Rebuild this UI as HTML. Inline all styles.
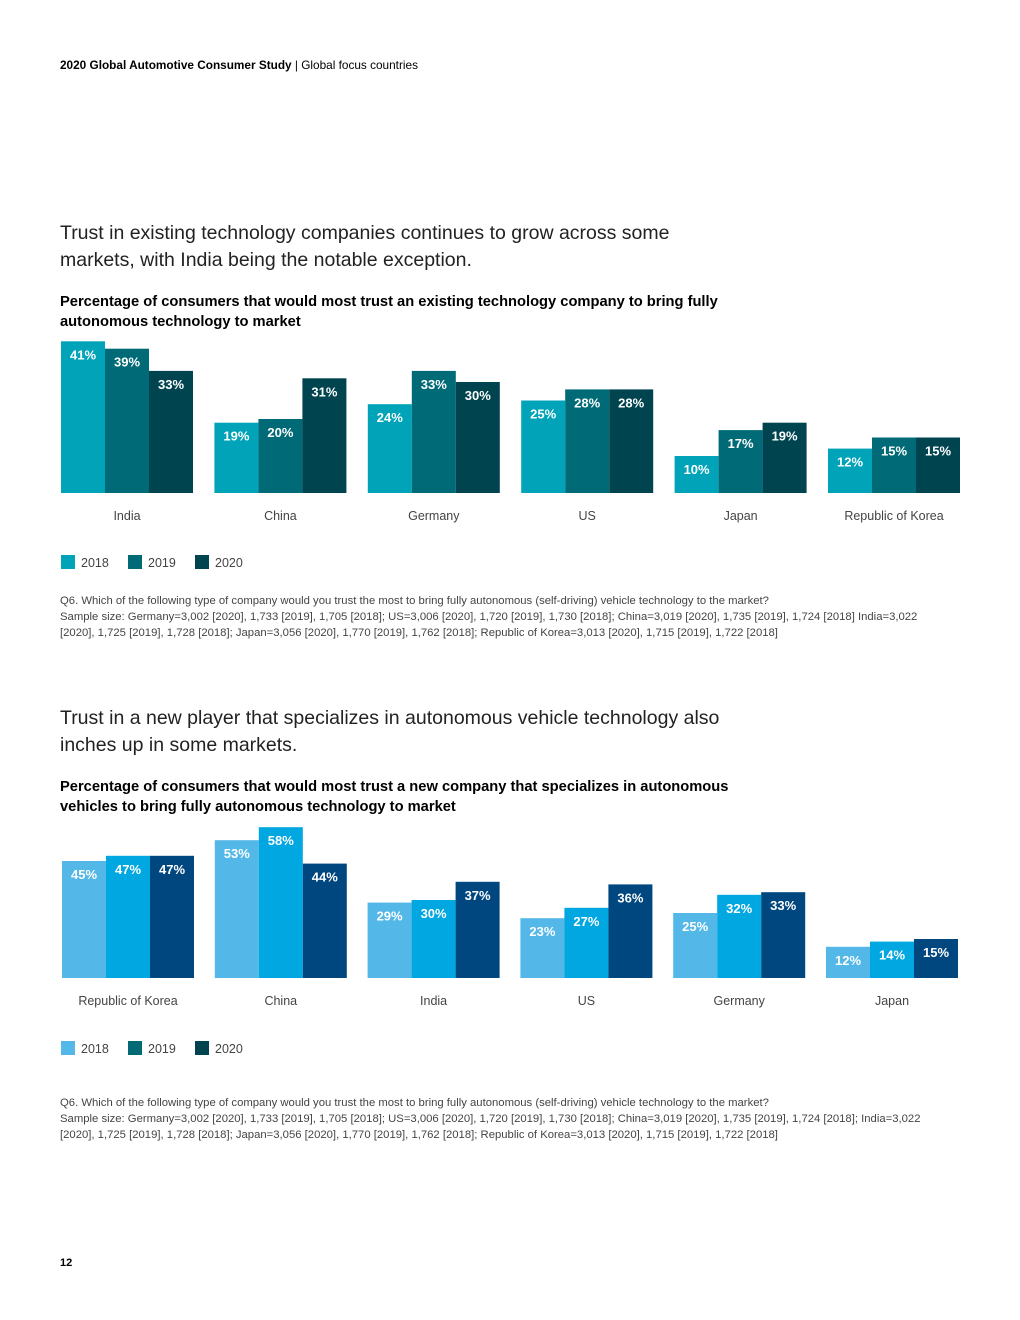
<!DOCTYPE html>
<html><head><meta charset="utf-8"><style>
body{margin:0;background:#fff;font-family:"Liberation Sans",sans-serif;color:#000}
#page{position:relative;width:1020px;height:1320px;overflow:hidden}
.abs{position:absolute;white-space:nowrap}
.h2{font-size:19.5px;color:#222;line-height:27px;font-weight:300}
.h3{font-size:14.7px;font-weight:bold;line-height:20px}
.note{font-size:11.3px;color:#444;line-height:16px}
svg text{font-family:"Liberation Sans",sans-serif}
</style></head><body><div id="page">
<div class="abs" style="left:60px;top:58px;font-size:11.8px"><b>2020 Global Automotive Consumer Study</b> | Global focus countries</div>
<div class="abs h2" style="left:60px;top:220px">Trust in existing technology companies continues to grow across some<br>markets, with India being the notable exception.</div>
<div class="abs h3" style="left:60px;top:292px">Percentage of consumers that would most trust an existing technology company to bring fully<br>autonomous technology to market</div>
<svg class="abs" style="left:0;top:0" width="1020" height="1320" id="svg"></svg>
<div class="abs note" style="left:60px;top:593px">Q6. Which of the following type of company would you trust the most to bring fully autonomous (self-driving) vehicle technology to the market?<br>Sample size: Germany=3,002 [2020], 1,733 [2019], 1,705 [2018]; US=3,006 [2020], 1,720 [2019], 1,730 [2018]; China=3,019 [2020], 1,735 [2019], 1,724 [2018] India=3,022<br>[2020], 1,725 [2019], 1,728 [2018]; Japan=3,056 [2020], 1,770 [2019], 1,762 [2018]; Republic of Korea=3,013 [2020], 1,715 [2019], 1,722 [2018]</div>
<div class="abs h2" style="left:60px;top:705px">Trust in a new player that specializes in autonomous vehicle technology also<br>inches up in some markets.</div>
<div class="abs h3" style="left:60px;top:777px">Percentage of consumers that would most trust a new company that specializes in autonomous<br>vehicles to bring fully autonomous technology to market</div>
<div class="abs note" style="left:60px;top:1095px">Q6. Which of the following type of company would you trust the most to bring fully autonomous (self-driving) vehicle technology to the market?<br>Sample size: Germany=3,002 [2020], 1,733 [2019], 1,705 [2018]; US=3,006 [2020], 1,720 [2019], 1,730 [2018]; China=3,019 [2020], 1,735 [2019], 1,724 [2018]; India=3,022<br>[2020], 1,725 [2019], 1,728 [2018]; Japan=3,056 [2020], 1,770 [2019], 1,762 [2018]; Republic of Korea=3,013 [2020], 1,715 [2019], 1,722 [2018]</div>
<div class="abs" style="left:60px;top:1257px;font-size:11px;font-weight:bold">12</div>
</div>
<script>
const years=["2018","2019","2020"];
const cats1=["India","China","Germany","US","Japan","Republic of Korea"];
const v1_2018=[41,19,24,25,10,12];
const v1_2019=[39,20,33,28,17,15];
const v1_2020=[33,31,30,28,19,15];
const cats2=["Republic of Korea","China","India","US","Germany","Japan"];
const v2_2018=[45,53,29,23,25,12];
const v2_2019=[47,58,30,27,32,14];
const v2_2020=[47,44,37,36,33,15];
const NS="http://www.w3.org/2000/svg",svg=document.getElementById('svg');
function mk(t,a,p){const e=document.createElementNS(NS,t);for(const k in a)e.setAttribute(k,a[k]);(p||svg).appendChild(e);return e;}
function chart(id,cats,series,colors,legColors,x0,step,base,scale,legY){
  const g=mk('g',{});
  
  
  const bw=44;
  cats.forEach((c,i)=>{
    const gx=x0+i*step;
    series.forEach((s,j)=>{
      const h=s[i]*scale,x=gx+j*bw;
      const r=mk('rect',{x:x,y:base-h,width:bw,height:h,fill:colors[j]},g);
      
      
      const t=mk('text',{x:x+bw/2,y:base-h+18,'text-anchor':'middle','font-size':13,'font-weight':'bold',fill:'#fff'},g);
      t.textContent=s[i]+'%';
      
      
    });
    const l=mk('text',{x:gx+66,y:base+27,'text-anchor':'middle','font-size':12.5,fill:'#444'},g);
    l.textContent=c;
    
    
  });
  years.forEach((y,j)=>{
    const lx=61+j*67;
    const r=mk('rect',{x:lx,y:legY-7,width:14,height:14,fill:legColors[j]},g);
    
    
    const t=mk('text',{x:lx+20,y:legY+5,'font-size':12.5,fill:'#444'},g);
    t.textContent=y;
    
    
  });
}
chart('chart1',cats1,[v1_2018,v1_2019,v1_2020],['#00a3b8','#006b77','#00444f'],['#00a3b8','#006b77','#00444f'],61,153.4,493,3.7,562);
chart('chart2',cats2,[v2_2018,v2_2019,v2_2020],['#53b7e8','#00a7e1','#00467f'],['#53b7e8','#006b77','#00444f'],62,152.8,978,2.6,1048);
</script></body></html>
